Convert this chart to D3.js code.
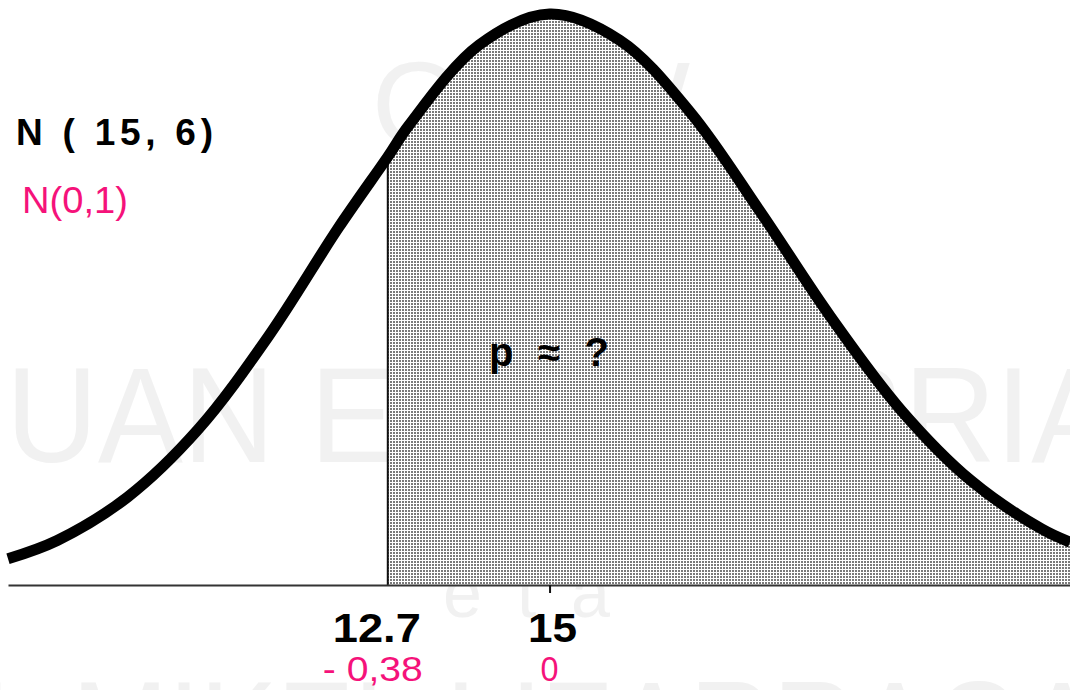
<!DOCTYPE html>
<html>
<head>
<meta charset="utf-8">
<script src="https://cdn.jsdelivr.net/npm/d3@7/dist/d3.min.js"></script>
<style>
  body { margin: 0; background: #fff; }
  svg { display: block; font-family: "Liberation Sans", Arial, sans-serif; }
</style>
</head>
<body>
<div class="chart"></div>
<script>
const width = 1070;
const height = 690;

// values
const mean = 15;
const cut = 12.7;
const xTicks = [12.7, 15];
const zTicks = ['- 0,38', '0'];
// curve as drawn (relative height, peak = 1)
const curveX = [7.3, 8, 9, 10, 11, 12, 12.7, 13, 14, 15, 16, 17, 18, 19, 20, 21, 22, 22.4];
const curveH = [0.046, 0.078, 0.154, 0.272, 0.435, 0.626, 0.75, 0.805, 0.946, 1, 0.954, 0.828, 0.653, 0.469, 0.306, 0.182, 0.098, 0.075];
const points = curveX.map((d, i) => ({ x: d, h: curveH[i] }));

const svg = d3.select('.chart').append('svg')
    .attr('width', width)
    .attr('height', height)
    .attr('viewBox', '0 0 1070 690');

const xScale = d3.scaleLinear().domain([7.3, 22.4]).range([8, 1070]);
const yScale = d3.scaleLinear().domain([0, 1]).range([585, 14]);

// dotted fill
const pat = svg.append('defs').append('pattern')
    .attr('id', 'dots')
    .attr('patternUnits', 'userSpaceOnUse')
    .attr('width', 3).attr('height', 3);
pat.append('rect').attr('width', 3).attr('height', 3).attr('fill', '#fff');
pat.append('rect').attr('width', 2).attr('height', 2).attr('fill', '#7a7a7a');

/* faint watermark, under the shading */
const wm = svg.append('g')
    .attr('fill', '#e4e4e4')
    .attr('opacity', 0.5);
wm.append('text').attr('x', 372).attr('y', 146).attr('font-size', 120)
    .attr('textLength', 318).text('OCW');
wm.append('text').attr('x', 6).attr('y', 462).attr('font-size', 135)
    .attr('textLength', 1110).attr('lengthAdjust', 'spacingAndGlyphs').text('UAN ETXEBERRIA');
wm.append('text').attr('x', 443).attr('y', 617).attr('font-size', 70)
    .attr('textLength', 167).text('eta');
wm.append('text').attr('x', -20).attr('y', 776).attr('font-size', 135)
    .attr('textLength', 1120).attr('lengthAdjust', 'spacingAndGlyphs').text('L MIKEL LIZARRAGA');

/* shaded area right of the cut */
const area = d3.area()
    .x(d => xScale(d.x))
    .y0(yScale(0))
    .y1(d => yScale(d.h))
    .curve(d3.curveCatmullRom);
svg.append('path')
    .datum(points.filter(d => d.x >= cut))
    .attr('d', area)
    .attr('fill', 'url(#dots)');

// cut line
svg.append('line')
    .attr('x1', xScale(cut)).attr('x2', xScale(cut))
    .attr('y1', yScale(0)).attr('y2', yScale(0.74))
    .attr('stroke', '#111').attr('stroke-width', 2);

/* x axis */
const xAxis = d3.axisBottom(xScale)
    .tickValues([mean])
    .tickSizeInner(8)
    .tickSizeOuter(0)
    .tickFormat('');
const ax = svg.append('g')
    .attr('transform', `translate(0, ${yScale(0)})`)
    .call(xAxis);
ax.select('.domain').attr('stroke', '#333').attr('stroke-width', 2);
ax.selectAll('.tick line').attr('stroke', '#111').attr('stroke-width', 2);

/* bell curve */
const line = d3.line()
    .x(d => xScale(d.x))
    .y(d => yScale(d.h))
    .curve(d3.curveCatmullRom);
svg.append('path')
    .datum(points)
    .attr('d', line)
    .attr('fill', 'none')
    .attr('stroke', '#000')
    .attr('stroke-width', 11)
    .attr('stroke-linejoin', 'round');

/* labels under the axis */
const tickDx = [-11, 3];
const tickW = [88, 49];
svg.selectAll('.xlab')
    .data(xTicks)
    .enter()
    .append('text')
    .attr('class', 'xlab')
    .attr('x', (d, i) => xScale(d) + tickDx[i] - tickW[i] / 2)
    .attr('y', 642)
    .attr('font-size', 40)
    .attr('font-weight', 'bold')
    .attr('textLength', (d, i) => tickW[i])
    .attr('lengthAdjust', 'spacingAndGlyphs')
    .attr('fill', '#000')
    .text(d => d);

const zDx = [-15, 0];
const zW = [100, 18];
svg.selectAll('.zlab')
    .data(zTicks)
    .enter()
    .append('text')
    .attr('class', 'zlab')
    .attr('x', (d, i) => xScale(xTicks[i]) + zDx[i] - zW[i] / 2)
    .attr('y', 681)
    .attr('font-size', 35)
    .attr('fill', '#f5127a')
    .attr('textLength', (d, i) => zW[i])
    .attr('lengthAdjust', 'spacingAndGlyphs')
    .text(d => d);

// titles
svg.append('text')
    .attr('x', 16).attr('y', 145)
    .attr('font-size', 37).attr('font-weight', 'bold')
    .attr('textLength', 197)
    .text('N ( 15, 6)');
svg.append('text')
    .attr('x', 22).attr('y', 213)
    .attr('font-size', 36)
    .attr('fill', '#f5127a')
    .attr('textLength', 106).attr('lengthAdjust', 'spacingAndGlyphs')
    .text('N(0,1)');
svg.append('text')
    .attr('x', 489).attr('y', 366)
    .attr('font-size', 40).attr('font-weight', 'bold')
    .attr('textLength', 120)
    .text('p ≈ ?');
</script>
</body>
</html>
